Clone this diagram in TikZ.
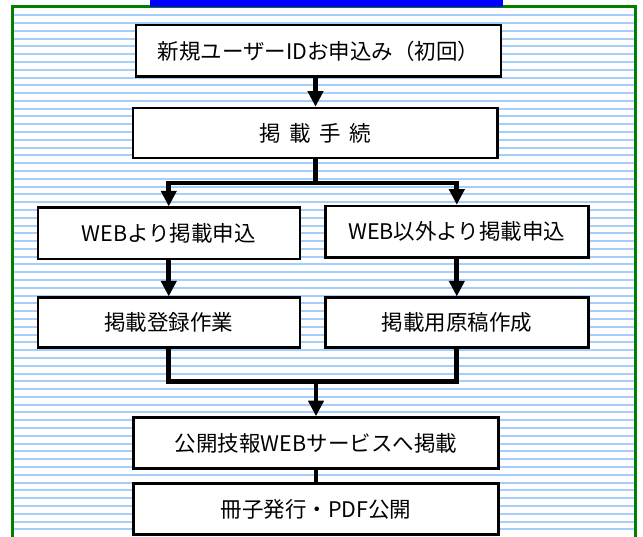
\documentclass[tikz,border=0pt]{standalone}
\usepackage{fontspec}
\setmainfont{Noto Sans CJK JP}
\usetikzlibrary{arrows.meta}
\definecolor{stripecol}{RGB}{165,206,250}
\definecolor{framecol}{RGB}{0,128,0}
\definecolor{barcol}{RGB}{0,0,255}
\begin{document}
\begin{tikzpicture}[x=1pt,y=-1pt,
  box/.style={draw=black,line width=2.5pt,fill=white,inner sep=0pt,font=\fontsize{21.5}{25}\selectfont},
  conn/.style={line width=4.7pt,draw=black},
  arr/.style={conn,-{Triangle[width=15pt,length=15.5pt]}}]
\useasboundingbox (0,0) rectangle (643,537);
\fill[white] (0,0) rectangle (643,537);
\foreach \i in {0,...,66}
  \draw[stripecol,line width=2pt] (14,{15.2+7.79*\i}) -- (634,{15.2+7.79*\i});
\draw[framecol,line width=3pt] (12.5,537) -- (12.5,6.5) -- (635.5,6.5) -- (635.5,537);
\fill[barcol] (150,0) rectangle (503,7.3);

\node[box,minimum width=365pt,minimum height=51.5pt] (b1) at (318.5,51) {新規ユーザーIDお申込み（初回）};
\node[box,minimum width=364.5pt,minimum height=50pt] (b2) at (315.25,133) {掲\hspace{0.4em}載\hspace{0.4em}手\hspace{0.4em}続};
\node[box,minimum width=262pt,minimum height=51.3pt] (b3) at (168.75,233.35) {WEBより掲載申込};
\node[box,minimum width=263pt,minimum height=51.7pt] (b4) at (456.8,231.85) {WEB以外より掲載申込};
\node[box,minimum width=262pt,minimum height=49.6pt] (b5) at (168.75,322.5) {掲載登録作業};
\node[box,minimum width=263pt,minimum height=49.6pt] (b6) at (456.8,322.5) {掲載用原稿作成};
\node[box,minimum width=365pt,minimum height=51pt] (b7) at (316,443) {公開技報WEBサービスへ掲載};
\node[box,minimum width=365pt,minimum height=51pt] (b8) at (316,509) {冊子発行・PDF公開};

\coordinate (split) at (315.5,183);
\coordinate (merge) at (316,381.8);
\draw[arr] (split |- b1.south) -- (split |- b2.north);
\draw[conn] (split |- b2.south) -- (split);
\draw[arr] (split) -| (b3.north);
\draw[arr] (split) -| (b4.north);
\draw[arr] (b3) -- (b5);
\draw[arr] (b4) -- (b6);
\draw[conn] (b5.south) |- (merge) -| (b6.south);
\draw[arr] (merge) -- (merge |- b7.north);
\draw[conn] (merge |- b7.south) -- (merge |- b8.north);
\end{tikzpicture}
\end{document}
